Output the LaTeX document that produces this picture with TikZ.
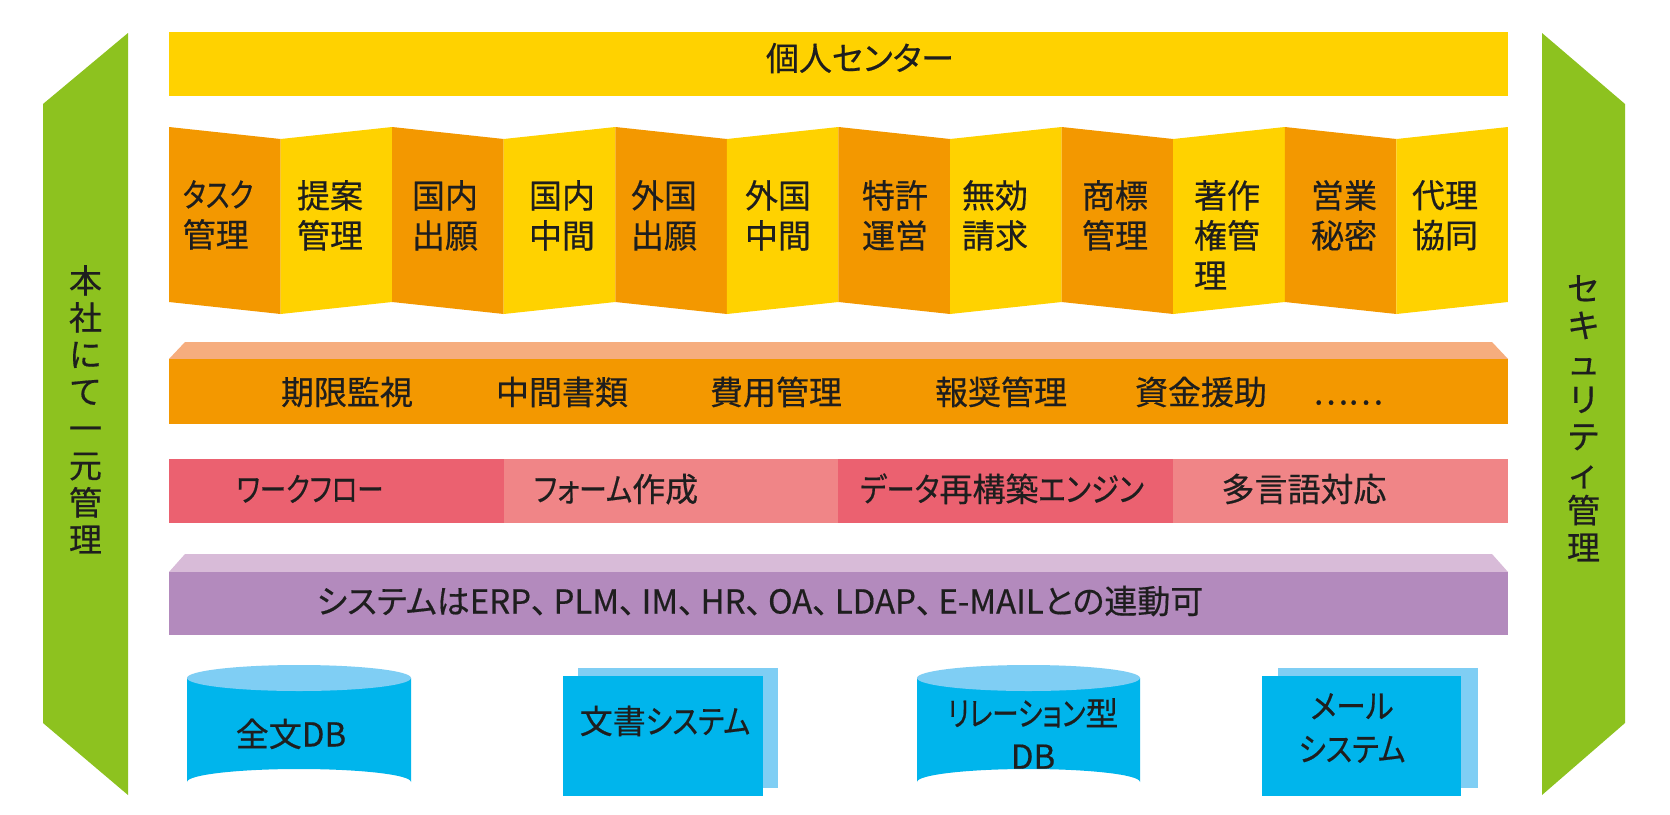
\documentclass[tikz,border=0pt]{standalone}
\usepackage{graphicx}
\usepackage{fontspec}
\newfontfamily\jp{Noto Sans CJK JP}[CharacterWidth=AlternateProportional,FakeBold=0.5]
\newfontfamily\jpf{Noto Sans CJK JP}[FakeBold=0.5]
\newcommand\kn[2]{\scalebox{#1}[1]{#2}}
\definecolor{grn}{HTML}{8DC21F}
\definecolor{yel}{HTML}{FFD200}
\definecolor{org}{HTML}{F39800}
\definecolor{orglt}{HTML}{F6AD7E}
\definecolor{reddk}{HTML}{EB6170}
\definecolor{redlt}{HTML}{F08587}
\definecolor{pur}{HTML}{B38ABD}
\definecolor{purlt}{HTML}{D8BBD8}
\definecolor{cyn}{HTML}{00B5EC}
\definecolor{cynlt}{HTML}{7FCEF4}
\definecolor{ink}{HTML}{1E1E1E}
\begin{document}
\begin{tikzpicture}[x=1pt,y=-1pt,
  lbl/.style={font=\jp\fontsize{33}{40}\selectfont, text=ink, inner sep=0pt},
  bl/.style={lbl, anchor=base},
  panel/.style={lbl, anchor=north, align=left},
  vert/.style={font=\jpf\fontsize{33}{37}\selectfont, text=ink, inner sep=0pt, anchor=north, align=center},
  two/.style={lbl, anchor=north, align=center, font=\jp\fontsize{33}{43}\selectfont}]
\useasboundingbox (0,0) rectangle (1670,814);
\fill[white] (0,0) rectangle (1670,814);
% side panels
\fill[grn] (43,104) -- (128,33) -- (128,795) -- (43,723) -- cycle;
\fill[grn] (1542,33) -- (1625,104) -- (1625,723) -- (1542,795) -- cycle;
\node[vert] (left) at (85.5,265) {本\\社\\に\\て\\一\\元\\管\\理};
\node[vert] (right) at (1583.5,275) {セ\\キ\\ュ\\リ\\テ\\ィ\\管\\理};
% top bar
\fill[yel] (169,32) rectangle (1508,96);
\node[bl] (pc) at (860,70.5) {個人センター};
% folded strip
\foreach \k in {0,...,11}{
  \pgfmathsetmacro{\xa}{169+111.58*\k}
  \pgfmathsetmacro{\xb}{169+111.58*(\k+1)}
  \ifodd\k
    \fill[yel] (\xa,139) -- (\xb,127) -- (\xb,302) -- (\xa,314) -- cycle;
  \else
    \fill[org] (\xa,127) -- (\xb,139) -- (\xb,314) -- (\xa,302) -- cycle;
  \fi
}
\node[panel] (p1) at (218,180) {\kn{0.8}{タスク}\\管理};
\node[panel] (p2) at (330,180) {提案\\管理};
\node[panel] (p3) at (445,180) {国内\\出願};
\node[panel] (p4) at (562,180) {国内\\中間};
\node[panel] (p5) at (664,180) {外国\\出願};
\node[panel] (p6) at (778,180) {外国\\中間};
\node[panel] (p7) at (895,180) {特許\\運営};
\node[panel] (p8) at (995,180) {無効\\請求};
\node[panel] (p9) at (1115,180) {商標\\管理};
\node[panel] (p10) at (1227,180) {著作\\権管\\理};
\node[panel] (p11) at (1344,180) {営業\\秘密};
\node[panel] (p12) at (1445,180) {代理\\協同};
% orange row
\fill[orglt] (169,359) -- (185,342) -- (1492,342) -- (1508,359) -- cycle;
\fill[org] (169,359) rectangle (1508,424);
\node[bl] (o1) at (347,404.5) {期限監視};
\node[bl] (o2) at (562,404.5) {中間書類};
\node[bl] (o3) at (776,404.5) {費用管理};
\node[bl] (o4) at (1001,404.5) {報奨管理};
\node[bl] (o5) at (1201,404.5) {資金援助};
\node[bl] (o6) at (1348,404.5) {……};
% red row
\fill[reddk] (169,459) rectangle (504,523);
\fill[redlt] (504,459) rectangle (838,523);
\fill[reddk] (838,459) rectangle (1173,523);
\fill[redlt] (1173,459) rectangle (1508,523);
\node[bl] (r1) at (310,501.5) {\kn{0.8}{ワークフロー}};
\node[bl] (r2) at (616,501.5) {\kn{0.85}{フォーム}作成};
\node[bl] (r3) at (1002,501.5) {\kn{0.86}{データ}再構築\kn{0.86}{エンジン}};
\node[bl] (r4) at (1304,501.5) {多言語対応};
% purple row
\fill[purlt] (169,572) -- (185,554) -- (1492,554) -- (1508,572) -- cycle;
\fill[pur] (169,572) rectangle (1508,635);
\node[bl] (sys) at (760,613.5) {システムはERP、\hspace{6pt}PLM、\hspace{6pt}IM、\hspace{6pt}HR、\hspace{6pt}OA、\hspace{6pt}LDAP、\hspace{6pt}E-MAILとの連動可};
% cylinders
\fill[cyn] (187,678) -- (187,782) arc[start angle=180,end angle=360,x radius=112,y radius=13] -- (411,678) -- cycle;
\fill[cynlt] (299,678) ellipse[x radius=112,y radius=13];
\node[bl] (db1) at (291,746.5) {全文DB};
\fill[cyn] (917,678) -- (917,782) arc[start angle=180,end angle=360,x radius=111.5,y radius=13] -- (1140,678) -- cycle;
\fill[cynlt] (1028.5,678) ellipse[x radius=111.5,y radius=13];
\node[two] (db2) at (1033,698) {\kn{0.8}{リレーション}型\\DB};
% boxes
\fill[cynlt] (578,668) rectangle (778,788);
\fill[cyn] (563,676) rectangle (763,796);
\node[bl] (doc) at (665,733.5) {文書\kn{0.87}{システム}};
\fill[cynlt] (1278,668) rectangle (1478,788);
\fill[cyn] (1262,676) rectangle (1461,796);
\node[two] (mail) at (1352,693) {\kn{0.9}{メール}\\\kn{0.89}{システム}};
\end{tikzpicture}
\end{document}
